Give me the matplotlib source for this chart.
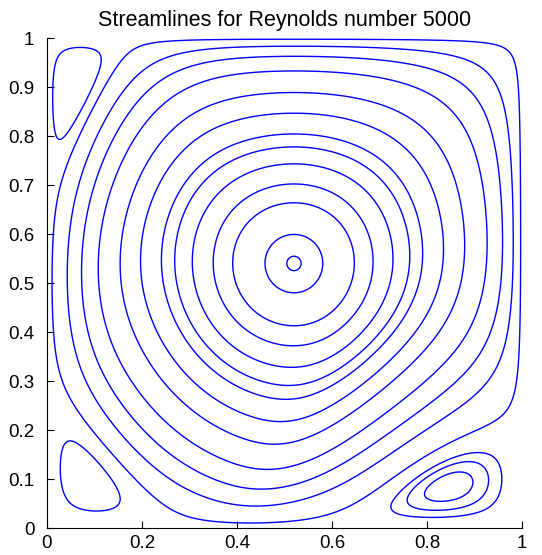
import numpy as np
import matplotlib.pyplot as plt

title = "Streamlines for Reynolds number 5000"
xticks = [0, 0.2, 0.4, 0.6, 0.8, 1]
yticks = [0, 0.1, 0.2, 0.3, 0.4, 0.5, 0.6, 0.7, 0.8, 0.9, 1]

# centre of the primary vortex
vortex_center = (0.52, 0.54)
# x where the primary streamlines cross the line y = 0.54 (left half)
main_cross_x = [0.011, 0.043, 0.073, 0.108, 0.154, 0.197, 0.241,
                0.269, 0.306, 0.350, 0.391, 0.459, 0.505]

# corner eddies (top-left, bottom-left, bottom-right)
eddy_corner_x = [0.0, 0.0, 1.0]
eddy_corner_y = [1.0, 0.0, 0.0]
eddy_len_x = [0.17, 0.27, 0.38]   # separatrix reach along the horizontal wall
eddy_len_y = [0.32, 0.30, 0.21]   # ... and along the vertical wall
eddy_pow_x = [1.0, 1.0, 2.0]
eddy_pow_y = [1.0, 1.0, 1.0]
eddy_strength = [3.0, 3.0, 1.5]
# points picked off the eddy streamlines, per eddy
eddy_pts_x = [[0.012], [0.03], [0.797, 0.862, 0.726]]
eddy_pts_y = [[0.88], [0.15], [0.077, 0.132, 0.037]]


def eddy_t(x, y, k):
    dx = np.abs(x - eddy_corner_x[k]) / eddy_len_x[k]
    dy = np.abs(y - eddy_corner_y[k]) / eddy_len_y[k]
    return dx**eddy_pow_x[k] + dy**eddy_pow_y[k]


def stream(x, y):
    px = np.log(0.5) / np.log(vortex_center[0])
    py = np.log(0.5) / np.log(vortex_center[1])
    env = np.sin(np.pi * x**px) * np.sin(np.pi * y**py)
    g = -1.0
    for k in range(len(eddy_len_x)):
        t = eddy_t(x, y, k)
        # eddy influence fades out well before the primary centre
        g = g + eddy_strength[k] ** (1 - t) * np.exp(-(t / 2.1)**4)
    return env * g


grid = np.linspace(0, 1, 801)
X, Y = np.meshgrid(grid, grid)
psi = stream(X, Y)

plt.rcParams['font.family'] = ['Liberation Sans', 'DejaVu Sans']
fig = plt.figure(figsize=(5.42, 5.55), dpi=100)
ax = fig.add_axes([0.0867, 0.0486, 0.8763, 0.8829])

main_levels = np.sort(stream(np.array(main_cross_x), vortex_center[1]))
ax.contour(X, Y, psi, levels=main_levels, colors='#0000ff',
           linewidths=1.0, linestyles='solid')

for k in range(len(eddy_len_x)):
    lv = np.sort(stream(np.array(eddy_pts_x[k]), np.array(eddy_pts_y[k])))
    local = np.where(eddy_t(X, Y, k) < 1.3, psi, np.nan)
    ax.contour(X, Y, local, levels=lv, colors='#0000ff',
               linewidths=1.0, linestyles='solid')

ax.set_xlim(0, 1)
ax.set_ylim(0, 1)
ax.set_xticks(xticks)
ax.set_xticklabels(['0', '0.2', '0.4', '0.6', '0.8', '1'])
ax.set_yticks(yticks)
ax.set_yticklabels(['0', '0.1', '0.2', '0.3', '0.4', '0.5', '0.6', '0.7', '0.8', '0.9', '1'])
ax.spines['top'].set_visible(False)
ax.spines['right'].set_visible(False)
ax.tick_params(direction='in', length=5, width=0.8, labelsize=13.5)
ax.tick_params(axis='y', pad=9)
ax.tick_params(axis='x', pad=5)
ax.set_title(title, fontsize=15.5, pad=9)

fig.savefig('out.png', dpi=100)
